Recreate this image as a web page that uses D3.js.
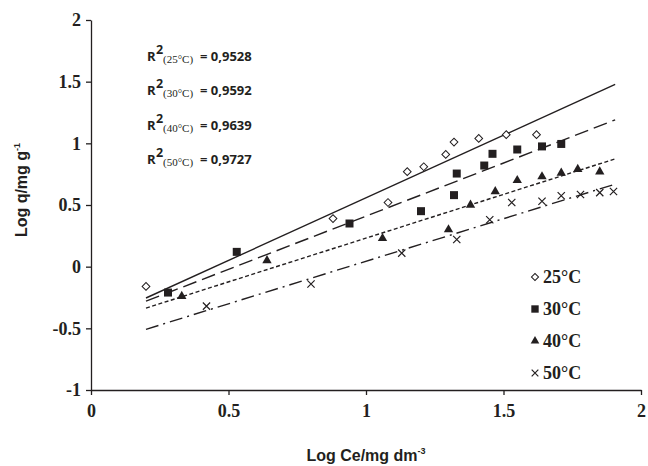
<!DOCTYPE html>
<html>
<head>
<meta charset="utf-8">
<script src="https://cdn.jsdelivr.net/npm/d3@7.9.0/dist/d3.min.js"></script>
<style>
    body { margin: 0; background: #fff; }
    svg { display: block; }
    .tick text { font-family: 'Liberation Serif', 'Times New Roman', serif; font-weight: bold; font-size: 18px; fill: #231f20; }
    .axis path, .axis line { stroke: #231f20; stroke-width: 1.3; }
</style>
</head>
<body>
<svg id="chart" width="648" height="466"></svg>
<script>
// series labels and fit quality
const seriesNames = ['25°C', '30°C', '40°C', '50°C'];
const r2Values = ['0,9528', '0,9592', '0,9639', '0,9727'];

// measured points (log Ce, log q)
const x25 = [0.20, 0.88, 1.08, 1.15, 1.21, 1.29, 1.32, 1.41, 1.51, 1.62];
const y25 = [-0.16, 0.39, 0.52, 0.77, 0.81, 0.91, 1.01, 1.04, 1.07, 1.07];

const x30 = [0.28, 0.53, 0.94, 1.20, 1.32, 1.33, 1.43, 1.46, 1.55, 1.64, 1.71];
const y30 = [-0.21, 0.12, 0.35, 0.45, 0.58, 0.755, 0.82, 0.915, 0.95, 0.975, 0.995];

const x40 = [0.33, 0.64, 1.06, 1.30, 1.38, 1.47, 1.55, 1.64, 1.71, 1.77, 1.85];
const y40 = [-0.24, 0.05, 0.23, 0.30, 0.50, 0.61, 0.70, 0.73, 0.76, 0.79, 0.77];

const x50 = [0.42, 0.80, 1.13, 1.33, 1.45, 1.53, 1.64, 1.71, 1.78, 1.85, 1.90];
const y50 = [-0.32, -0.14, 0.11, 0.22, 0.38, 0.52, 0.53, 0.575, 0.585, 0.60, 0.61];

const fitX = [0.2, 1.906];
const fit25 = [-0.254, 1.478];
const fit30 = [-0.28, 1.19];
const fit40 = [-0.336, 0.874];
const fit50 = [-0.508, 0.669];

const xTicks = [0, 0.5, 1, 1.5, 2];
const yTicks = [-1, -0.5, 0, 0.5, 1, 1.5, 2];

const width = 648, height = 466;
const margin = { top: 20, right: 7, bottom: 76, left: 91 };
const ink = '#231f20';

const svg = d3.select('#chart');

const x = d3.scaleLinear().domain([0, 2]).range([margin.left, width - margin.right]);
const y = d3.scaleLinear().domain([-1, 2]).range([height - margin.bottom, margin.top]);

// plain hyphen for negatives, like the original
const fmt = d => String(d);

svg.append('g')
    .attr('class', 'axis')
    .attr('transform', `translate(0,${height - margin.bottom})`)
    .call(d3.axisBottom(x).tickValues(xTicks).tickFormat(fmt).tickSize(5).tickSizeOuter(0).tickPadding(9));

svg.append('g')
    .attr('class', 'axis')
    .attr('transform', `translate(${margin.left},0)`)
    .call(d3.axisLeft(y).tickValues(yTicks).tickFormat(fmt).tickSize(5).tickSizeOuter(0).tickPadding(5));

// axis titles
const yTitle = svg.append('text')
    .attr('transform', `translate(27,190) rotate(-90)`)
    .attr('text-anchor', 'middle')
    .style('font-family', "'Liberation Sans', Arial, sans-serif")
    .style('font-weight', 'bold')
    .style('font-size', '16px')
    .attr('fill', ink);
yTitle.append('tspan').text('Log q/mg g');
yTitle.append('tspan').attr('dy', -7).style('font-size', '9px').text('-1');

const xTitle = svg.append('text')
    .attr('x', (x(0) + x(2)) / 2)
    .attr('y', 461)
    .attr('text-anchor', 'middle')
    .style('font-family', "'Liberation Sans', Arial, sans-serif")
    .style('font-weight', 'bold')
    .style('font-size', '16px')
    .attr('fill', ink);
xTitle.append('tspan').text('Log Ce/mg dm');
xTitle.append('tspan').attr('dy', -7).style('font-size', '9px').text('-3');

// trend lines
const fits = [fit25, fit30, fit40, fit50];
const dashes = [null, '14,6', '4,2.5', '13,5,2,5'];
const line = d3.line().x(d => x(d[0])).y(d => y(d[1]));

fits.forEach((f, i) => {
    svg.append('path')
        .attr('d', line(fitX.map((v, j) => [v, f[j]])))
        .attr('fill', 'none')
        .attr('stroke', ink)
        .attr('stroke-width', 1.4)
        .attr('stroke-dasharray', dashes[i]);
});

// markers
const symbols = [
    { type: d3.symbolSquare, size: 30, rotate: 45, fill: '#fff', stroke: ink, sw: 1 },
    { type: d3.symbolSquare, size: 64, rotate: 0, fill: ink, stroke: 'none', sw: 0 },
    { type: d3.symbolTriangle, size: 38, rotate: 0, fill: ink, stroke: 'none', sw: 0 },
    { type: d3.symbolTimes, size: 36, rotate: 0, fill: 'none', stroke: ink, sw: 1.2 }
];
const xs = [x25, x30, x40, x50];
const ys = [y25, y30, y40, y50];

function drawSymbol(s, cx, cy, scale = 1) {
    svg.append('path')
        .attr('d', d3.symbol(s.type, s.size * scale)())
        .attr('transform', `translate(${cx},${cy}) rotate(${s.rotate})`)
        .attr('fill', s.fill)
        .attr('stroke', s.stroke)
        .attr('stroke-width', s.sw);
}

xs.forEach((xv, i) => {
    xv.forEach((v, j) => drawSymbol(symbols[i], x(v), y(ys[i][j])));
});

// legend
const legendY = [277, 309, 341, 373];
seriesNames.forEach((name, i) => {
    drawSymbol(symbols[i], 535, legendY[i], 0.85);
    svg.append('text')
        .attr('x', 543)
        .attr('y', legendY[i] + 6)
        .style('font-family', "'Liberation Serif', 'Times New Roman', serif")
        .style('font-weight', 'bold')
        .style('font-size', '18px')
        .attr('fill', ink)
        .text(name);
});

// R² annotations
const r2Base = [60.5, 95, 129.5, 164];
r2Values.forEach((val, i) => {
    const t = svg.append('text')
        .attr('y', r2Base[i])
        .style('font-family', "'Open Sans', Arial, sans-serif")
        .style('font-weight', 'bold')
        .style('font-size', '13px')
        .attr('fill', ink);
    t.append('tspan').attr('x', 147).text('R');
    t.append('tspan').attr('x', 156).attr('dy', -7).style('font-size', '12.5px').text('2');
    t.append('tspan').attr('x', 163).attr('dy', 9)
        .style('font-family', "'Liberation Serif', 'Times New Roman', serif")
        .style('font-weight', 'normal')
        .style('font-size', '11px')
        .text(`(${seriesNames[i]})`);
    t.append('tspan').attr('x', 200).attr('dy', -2).text(`= ${val}`);
});
</script>
</body>
</html>
